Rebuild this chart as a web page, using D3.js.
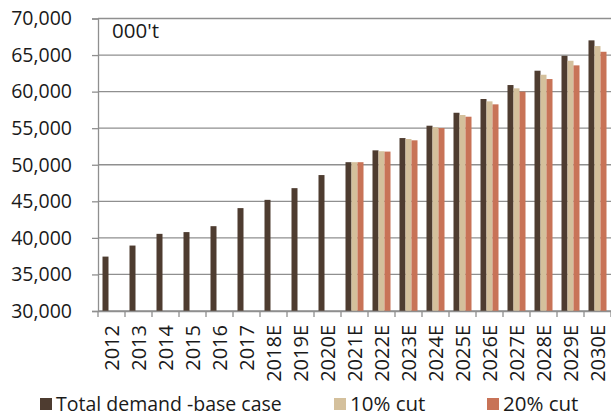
<!DOCTYPE html>
<html lang="en">
<head>
    <meta charset="UTF-8">
    <title>Demand chart</title>
    <script src="https://d3js.org/d3.v7.min.js"></script>
    <style>
        body { margin: 0; background: #fff; }
        svg text { font-family: "Open Sans", sans-serif; fill: #1a1a1a; }
    </style>
</head>
<body>
    <div id="chart"></div>

    <script>
        // data
        const years = ['2012', '2013', '2014', '2015', '2016', '2017', '2018E', '2019E', '2020E',
            '2021E', '2022E', '2023E', '2024E', '2025E', '2026E', '2027E', '2028E', '2029E', '2030E'];
        const baseCase = [37440, 38950, 40550, 40790, 41600, 44070, 45200, 46800, 48590,
            50350, 51970, 53650, 55340, 57110, 58990, 60900, 62860, 64900, 67010];
        const cut10 = [null, null, null, null, null, null, null, null, null,
            50350, 51850, 53520, 55130, 56800, 58670, 60450, 62310, 64220, 66230];
        const cut20 = [null, null, null, null, null, null, null, null, null,
            50350, 51800, 53340, 55020, 56570, 58260, 60000, 61720, 63590, 65450];
        const seriesNames = ['Total demand -base case', '10% cut', '20% cut'];
        const colors = ['#4e3c30', '#d4c09c', '#c87357'];
        const yTicks = [30000, 35000, 40000, 45000, 50000, 55000, 60000, 65000, 70000];

        const width = 611, height = 418;
        const plot = {left: 98, right: 611, top: 18.5, bottom: 311};

        const svg = d3.select('#chart')
            .append('svg')
                .attr('width', width)
                .attr('height', height);

        const x0 = d3.scaleBand()
            .domain(years)
            .range([plot.left, plot.right])
            .paddingInner(1 / 3)
            .paddingOuter(1 / 6);

        const x1 = d3.scaleBand()
            .domain([0, 1, 2])
            .range([0, x0.bandwidth()]);

        const y = d3.scaleLinear()
            .domain([30000, 70000])
            .range([plot.bottom, plot.top]);

        // gridlines
        svg.append('g')
            .selectAll('line')
            .data(yTicks)
            .join('line')
                .attr('x1', plot.left)
                .attr('x2', plot.right)
                .attr('y1', d => y(d))
                .attr('y2', d => y(d))
                .attr('stroke', '#8f8f8f')
                .attr('stroke-width', 1.3);

        // bars
        const rows = years.map((yr, i) => ({year: yr, vals: [baseCase[i], cut10[i], cut20[i]]}));
        svg.append('g')
            .selectAll('g')
            .data(rows)
            .join('g')
                .attr('transform', d => `translate(${x0(d.year)},0)`)
            .selectAll('rect')
            .data(d => d.vals.map((v, k) => ({k, v})).filter(e => e.v != null))
            .join('rect')
                .attr('x', d => x1(d.k))
                .attr('width', x1.bandwidth())
                .attr('y', d => y(d.v))
                .attr('height', d => y(30000) - y(d.v))
                .attr('fill', d => colors[d.k]);

        // y axis
        const yAxis = svg.append('g')
            .attr('transform', `translate(${plot.left},0)`)
            .call(d3.axisLeft(y)
                .tickValues(yTicks)
                .tickFormat(d3.format(','))
                .tickSize(6)
                .tickPadding(20));
        yAxis.select('.domain').attr('stroke', '#8f8f8f').attr('stroke-width', 1.3);
        yAxis.selectAll('.tick line').attr('stroke', '#8f8f8f').attr('stroke-width', 1.3);
        yAxis.selectAll('.tick text')
            .attr('x', -26)
            .style('font-size', '19.5px');

        // x axis: labels at centers, ticks at band edges
        const xAxis = svg.append('g')
            .attr('transform', `translate(0,${plot.bottom})`)
            .call(d3.axisBottom(x0).tickSize(0));
        xAxis.select('.domain').attr('stroke', '#8f8f8f').attr('stroke-width', 1.3);
        xAxis.selectAll('.tick text')
            .attr('transform', 'rotate(-90)')
            .attr('x', -14)
            .attr('y', 0)
            .attr('dy', '0.36em')
            .style('text-anchor', 'end')
            .style('font-size', '20px');

        const step = x0.step();
        xAxis.append('g')
            .selectAll('line')
            .data(d3.range(years.length + 1))
            .join('line')
                .attr('x1', i => x0.range()[0] + i * step)
                .attr('x2', i => x0.range()[0] + i * step)
                .attr('y1', 0)
                .attr('y2', 6)
                .attr('stroke', '#8f8f8f')
                .attr('stroke-width', 1.3);

        // unit label
        svg.append('text')
            .attr('x', 112)
            .attr('y', 38)
            .style('font-size', '20.5px')
            .text("000't");

        // legend
        const legendX = [40, 334, 487];
        const legend = svg.append('g')
            .selectAll('g')
            .data(seriesNames)
            .join('g')
                .attr('transform', (d, i) => `translate(${legendX[i]},398)`);
        legend.append('rect')
            .attr('width', 12)
            .attr('height', 12)
            .attr('fill', (d, i) => colors[i]);
        legend.append('text')
            .attr('x', 16)
            .attr('y', 13)
            .style('font-size', (d, i) => i === 0 ? '19.5px' : '20.5px')
            .text(d => d);
    </script>
</body>
</html>
